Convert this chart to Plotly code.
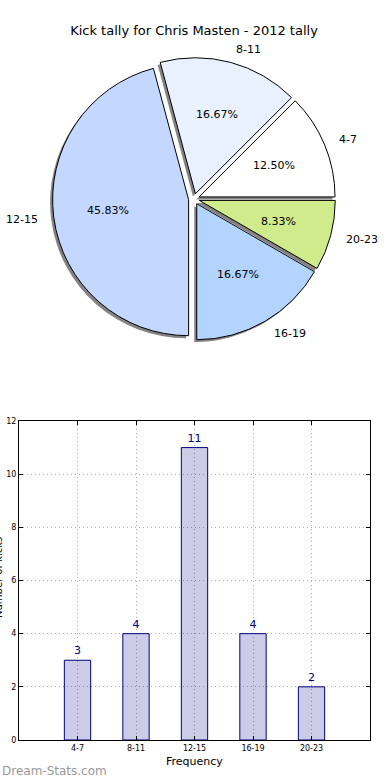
import numpy as np
import plotly.graph_objects as go

# ---- data ----
categories = ["4-7", "8-11", "12-15", "16-19", "20-23"]
counts = [3, 4, 11, 4, 2]
pie_colors = ["#ffffff", "#e9f1ff", "#c4d8ff", "#b3d4ff", "#d0eb8b"]
y_ticks = [0, 2, 4, 6, 8, 10, 12]
title_text = "Kick tally for Chris Masten - 2012 tally"
x_title = "Frequency"
y_title = "Number of kicks"
watermark = "Dream-Stats.com"

# ---- layout helpers (pixels -> paper) ----
W, H = 390, 780
ML, MR, MT, MB = 19, 20, 0, 40
PW = W - ML - MR
PH = H - MT - MB


def px2x(px):
    return (px - ML) / PW


def py2y(py):
    return (PH - (py - MT)) / PH


FONT = "DejaVu Sans"

total = float(sum(counts))
frac = np.array(counts) / total

# pie geometry
cx, cy, R = 194, 199, 136
pull = 0.04
D = 2 * R * (1 + pull)
dom_x = [px2x(cx - D / 2), px2x(cx + D / 2)]
dom_y = [py2y(cy + D / 2), py2y(cy - D / 2)]
sh = 2.5
shadow_x = [dom_x[0] - sh / PW, dom_x[1] - sh / PW]
shadow_y = [dom_y[0] - sh / PH, dom_y[1] - sh / PH]
# first slice should start at 3 o'clock going counterclockwise
rot = 90 - frac[0] * 360

fig = go.Figure()

# shadow pie
fig.add_trace(go.Pie(
    values=counts, labels=categories, sort=False, direction="counterclockwise",
    rotation=rot, pull=[pull] * len(counts),
    marker=dict(colors=["rgba(90,90,90,0.75)"] * len(counts), line=dict(width=0)),
    textinfo="none", hoverinfo="skip", showlegend=False,
    domain=dict(x=shadow_x, y=shadow_y),
))
# main pie
fig.add_trace(go.Pie(
    values=counts, labels=categories, sort=False, direction="counterclockwise",
    rotation=rot, pull=[pull] * len(counts),
    marker=dict(colors=pie_colors, line=dict(color="black", width=1)),
    textinfo="none", hoverinfo="label+percent", showlegend=False,
    domain=dict(x=dom_x, y=dom_y),
))

annotations = []
cum = np.concatenate([[0.0], np.cumsum(frac)])
mids = (cum[:-1] + cum[1:]) / 2 * 2 * np.pi
off = pull * R
for lab, f, a in zip(categories, frac, mids):
    dx, dy = np.cos(a), np.sin(a)
    r1 = 0.6 * R + off
    annotations.append(dict(
        x=px2x(cx + r1 * dx), y=py2y(cy - r1 * dy), xref="paper", yref="paper",
        text=f"{f * 100:.2f}%", showarrow=False, xanchor="center", yanchor="middle",
        font=dict(family=FONT, size=11, color="black"),
    ))
    r2 = 1.1 * R + off
    annotations.append(dict(
        x=px2x(cx + r2 * dx), y=py2y(cy - r2 * dy), xref="paper", yref="paper",
        text=lab, showarrow=False, xanchor="left" if dx > 0 else "right",
        yanchor="middle", font=dict(family=FONT, size=11, color="black"),
    ))

# bar chart
fig.add_trace(go.Bar(
    x=categories, y=counts, width=0.45, text=[str(c) for c in counts],
    textposition="outside", cliponaxis=False,
    textfont=dict(family=FONT, size=11, color="#000080"),
    marker=dict(color="rgba(0,0,128,0.2)", line=dict(color="#000080", width=1)),
    showlegend=False, xaxis="x", yaxis="y",
))

annotations.append(dict(
    x=px2x(194), y=py2y(761), xref="paper", yref="paper", text=x_title,
    showarrow=False, xanchor="center", yanchor="middle",
    font=dict(family=FONT, size=11, color="black"),
))
annotations.append(dict(
    x=px2x(-2), y=py2y(578), xref="paper", yref="paper", text=y_title,
    showarrow=False, textangle=-90, xanchor="center", yanchor="middle",
    font=dict(family=FONT, size=10, color="black"),
))
annotations.append(dict(
    x=px2x(0), y=py2y(771), xref="paper", yref="paper", text=watermark,
    showarrow=False, xanchor="left", yanchor="middle",
    font=dict(family=FONT, size=12, color="#999999"),
))

grid_dash = "1px,3px"
fig.update_layout(
    width=W, height=H,
    margin=dict(l=ML, r=MR, t=MT, b=MB, autoexpand=False),
    paper_bgcolor="white", plot_bgcolor="white",
    font=dict(family=FONT, color="black"),
    title=dict(text=title_text, x=194 / W, xref="container", xanchor="center",
               y=1 - 30 / H, yref="container", yanchor="middle",
               font=dict(family=FONT, size=13, color="black")),
    annotations=annotations,
    xaxis=dict(
        domain=[0, 1], anchor="y", type="category", range=[-1, 5], automargin=False,
        showline=True, linecolor="black", linewidth=1, mirror="ticks",
        ticks="inside", ticklen=4, tickcolor="black",
        showgrid=True, gridcolor="#aaaaaa", griddash=grid_dash, gridwidth=1,
        tickfont=dict(family=FONT, size=8, color="black"), zeroline=False,
    ),
    yaxis=dict(
        domain=[0, py2y(421)], anchor="x", range=[0, 12], tickvals=y_ticks,
        automargin=False,
        showline=True, linecolor="black", linewidth=1, mirror="ticks",
        ticks="inside", ticklen=4, tickcolor="black",
        showgrid=True, gridcolor="#aaaaaa", griddash=grid_dash, gridwidth=1,
        tickfont=dict(family=FONT, size=8, color="black"), zeroline=False,
    ),
)

fig.write_html("out.html", config={"displayModeBar": False},
               post_script="document.body.style.margin='0';")
